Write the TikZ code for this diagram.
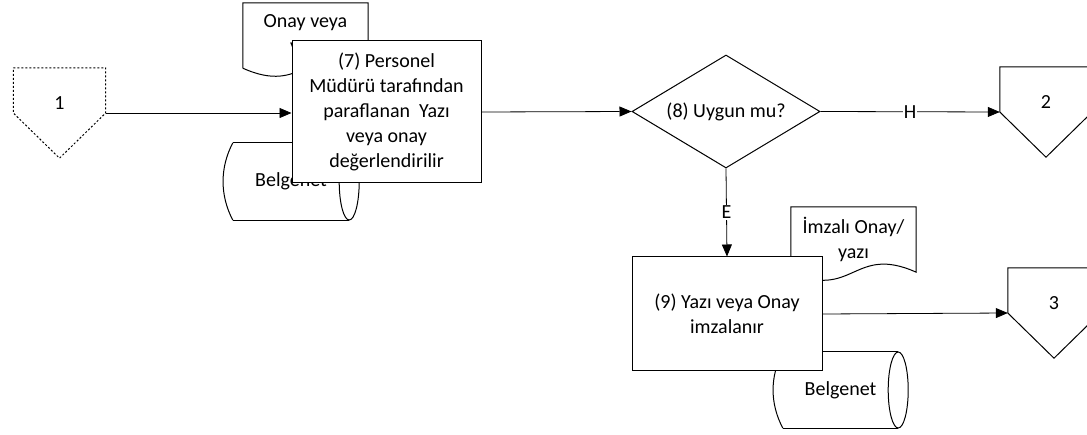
\documentclass[tikz,border=0pt]{standalone}
\usepackage{fontspec}
\setmainfont{Carlito}
\usepackage{tikz}
\usetikzlibrary{shapes.geometric,arrows.meta,calc}

\begin{document}
\begin{tikzpicture}[x=1pt,y=-1pt,
every node/.style = {font=\fontsize{20}{25}\selectfont},
% common options for the process boxes:
proc/.style = {draw, fill=white, align=center, inner sep=0, line width=1pt},
% common options for the off-page connectors:
offpg/.style = {minimum width=92pt, minimum height=90pt, inner sep=0,
            text height=14pt, text depth=20pt},
% documents and data stores:
docbox/.style = {minimum width=125pt, minimum height=65pt, inner sep=0, align=center},
storebox/.style = {inner sep=0, align=center},
% arrows and their labels:
flow/.style = {line width=0.8pt, -{Triangle[length=12pt,width=10pt]}},
lbl/.style = {fill=white, inner sep=1pt}]
\useasboundingbox (0,0) rectangle (1087,435);
% documents and stores behind the boxes
\node[docbox] (doc7) at (305.5,35.5) {Onay veya\\yazı};
\draw[line width=1pt] (doc7.south west) -- (doc7.north west) -- (doc7.north east) -- (doc7.south east)
  .. controls ($(doc7.south)+(0,-28)$) and ($(doc7.south)+(0,28)$) .. (doc7.south west);
\node[storebox, minimum width=136pt, minimum height=77pt] (db7) at (291,181.5) {Belgenet};
\draw[line width=1pt] ($(db7.north west)+(10,0)$) -- ($(db7.north east)+(-10,0)$);
\draw[line width=1pt] ($(db7.south west)+(10,0)$) -- ($(db7.south east)+(-10,0)$);
\draw[line width=1pt] ($(db7.north west)+(10,0)$) .. controls ($(db7.north west)+(-3,25)$)
  and ($(db7.south west)+(-3,-25)$) .. ($(db7.south west)+(10,0)$);
\draw[line width=1pt] ($(db7.east)+(-10,0)$) ellipse [x radius=10, y radius=38.5];
\node[docbox] (doc9) at (853.5,239.5) {İmzalı Onay/\\yazı};
\draw[line width=1pt] (doc9.south west) -- (doc9.north west) -- (doc9.north east) -- (doc9.south east)
  .. controls ($(doc9.south)+(0,-28)$) and ($(doc9.south)+(0,28)$) .. (doc9.south west);
\node[storebox, minimum width=135pt, minimum height=76pt] (db9) at (840.5,390) {Belgenet};
\draw[line width=1pt] ($(db9.north west)+(10,0)$) -- ($(db9.north east)+(-10,0)$);
\draw[line width=1pt] ($(db9.south west)+(10,0)$) -- ($(db9.south east)+(-10,0)$);
\draw[line width=1pt] ($(db9.north west)+(10,0)$) .. controls ($(db9.north west)+(-3,25)$)
  and ($(db9.south west)+(-3,-25)$) .. ($(db9.south west)+(10,0)$);
\draw[line width=1pt] ($(db9.east)+(-10,0)$) ellipse [x radius=10, y radius=38];
% off-page connectors
\node[offpg] (off1) at (59.5,113) {1};
\draw[line width=1pt, dash pattern=on 2pt off 2pt] (off1.north west) -- (off1.north east)
  -- (off1.east) -- (off1.south) -- (off1.west) -- cycle;
\node[offpg] (off2) at (1046,112) {2};
\draw[line width=1pt] (off2.north west) -- (off2.north east) -- (off2.east) -- (off2.south) -- (off2.west) -- cycle;
\node[offpg] (off3) at (1054,313) {3};
\draw[line width=1pt] (off3.north west) -- (off3.north east) -- (off3.east) -- (off3.south) -- (off3.west) -- cycle;
% steps
\node[proc, minimum width=189pt, minimum height=142pt] (p7) at (386.5,112)
  {(7) Personel\\Müdürü tarafından\\paraflanan~~Yazı\\veya onay\\değerlendirilir};
\node[draw, diamond, aspect=1.66, minimum width=188pt, minimum height=113pt, inner sep=0,
  line width=1pt, fill=white] (chk) at (726,111.5) {(8) Uygun mu?};
\node[proc, minimum width=190pt, minimum height=114pt] (p9) at (727,314) {(9) Yazı veya Onay\\imzalanır};
% arrows
\draw[flow] (off1.east) -- (off1.east -| p7.west);
\draw[flow] (p7.east) -- (chk.west);
\draw[flow] (chk.east) -- node[lbl] {H} (off2.west);
\draw[flow] (chk.south) -- node[lbl] {E} (p9.north);
\draw[flow] (p9.east) -- (off3.west);
\end{tikzpicture}
\end{document}
